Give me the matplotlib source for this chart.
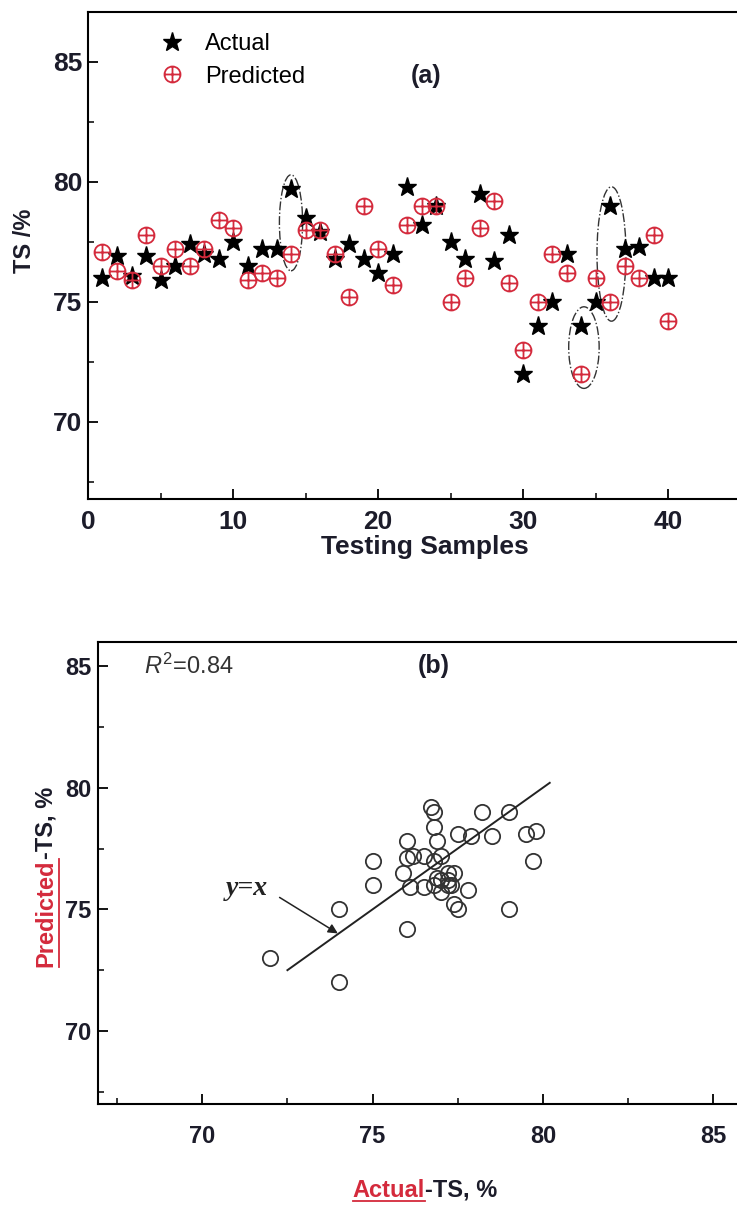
import numpy as np
import matplotlib
matplotlib.use('Agg')
import matplotlib.pyplot as plt
from matplotlib.path import Path
from matplotlib.patches import Ellipse
from matplotlib.lines import Line2D

# testing samples 1..40
samples = np.arange(1, 41)
actual = [76.0, 76.9, 76.1, 76.9, 75.9, 76.5, 77.4, 77.0, 76.8, 77.5,
          76.5, 77.2, 77.2, 79.7, 78.5, 77.9, 76.8, 77.4, 76.8, 76.2,
          77.0, 79.8, 78.2, 79.0, 77.5, 76.8, 79.5, 76.7, 77.8, 72.0,
          74.0, 75.0, 77.0, 74.0, 75.0, 79.0, 77.2, 77.3, 76.0, 76.0]
predicted = [77.1, 76.3, 75.9, 77.8, 76.5, 77.2, 76.5, 77.2, 78.4, 78.1,
             75.9, 76.2, 76.0, 77.0, 78.0, 78.0, 77.0, 75.2, 79.0, 77.2,
             75.7, 78.2, 79.0, 79.0, 75.0, 76.0, 78.1, 79.2, 75.8, 73.0,
             75.0, 77.0, 76.2, 72.0, 76.0, 75.0, 76.5, 76.0, 77.8, 74.2]
yticks_a = [70, 75, 80, 85]
xticks_a = [0, 10, 20, 30, 40]
ticks_b = [70, 75, 80, 85]
line_b = [72.5, 80.2]   # y = x segment
r2_label = '$R^2$=0.84'

RED = '#d42a3c'
TXT = '#1c1c2a'

plt.rcParams['font.family'] = ['Liberation Sans', 'DejaVu Sans']
plt.rcParams['mathtext.fontset'] = 'custom'
plt.rcParams['mathtext.rm'] = 'Liberation Sans'
plt.rcParams['mathtext.it'] = 'Liberation Sans:italic'

# circle with a plus inside
oplus = Path.make_compound_path(
    Path.unit_circle(),
    Path([(-1, 0), (1, 0), (0, -1), (0, 1)],
         [Path.MOVETO, Path.LINETO, Path.MOVETO, Path.LINETO]))


def style_axes(ax, size, xpad, ypad):
    for s in ['left', 'bottom', 'top', 'right']:
        ax.spines[s].set_linewidth(1.5)
    ax.tick_params(which='major', direction='in', length=7, width=1.3,
                   labelcolor=TXT)
    ax.tick_params(axis='x', pad=xpad)
    ax.tick_params(axis='y', pad=ypad)
    ax.tick_params(which='minor', direction='in', length=4, width=1.1)
    for lab in ax.get_xticklabels() + ax.get_yticklabels():
        lab.set_fontweight('bold')
        lab.set_fontsize(size)


fig = plt.figure(figsize=(7.37, 12.06), dpi=100)

# ---- panel (a)
ax1 = fig.add_axes([0.1194, 0.5864, 0.8854, 0.404])
ax1.plot(samples, actual, ls='none', marker='*', ms=14, color='black',
         label='Actual')
ax1.plot(samples, predicted, ls='none', marker=oplus, ms=11.5, mfc='none',
         mec=RED, mew=1.3, label='Predicted')
for cx, cy, w, h in [(14.0, 78.3, 1.6, 4.0), (34.2, 73.1, 2.1, 3.4),
                     (36.1, 77.0, 2.0, 5.6)]:
    ax1.add_patch(Ellipse((cx, cy), w, h, fill=False, ls='-.', lw=1,
                          ec='#333333'))
ax1.set_xlim(0, 45)
ax1.set_ylim(66.8, 87.1)
ax1.set_xticks(xticks_a)
ax1.set_xticks([5, 15, 25, 35], minor=True)
ax1.set_yticks(yticks_a)
ax1.set_yticks([67.5, 72.5, 77.5, 82.5], minor=True)
style_axes(ax1, 19, 8, 4)
ax1.set_xlabel('Testing Samples', fontsize=19, fontweight='bold', color=TXT)
ax1.xaxis.set_label_coords(0.516, -0.075)
ax1.set_ylabel('TS /%', fontsize=17, fontweight='bold', color=TXT)
ax1.yaxis.set_label_coords(-0.08, 0.53)
ax1.legend(loc='upper left', bbox_to_anchor=(0.085, 0.985), frameon=False,
           fontsize=17, handlelength=1.2, handletextpad=0.8,
           labelspacing=0.45, borderaxespad=0.2)
ax1.text(23.3, 84.4, '(a)', fontsize=18, fontweight='bold', color=TXT,
         ha='center', va='center')

# ---- panel (b)
ax2 = fig.add_axes([0.133, 0.0846, 0.881, 0.3833])
ax2.plot(actual, predicted, ls='none', marker='o', ms=11, mfc='none',
         mec='#333333', mew=1.3)
ax2.plot(line_b, line_b, color='#222222', lw=1.4)
ax2.annotate('', xy=(74.05, 73.95), xytext=(72.2, 75.55),
             arrowprops=dict(arrowstyle='-|>', color='#222222', lw=1.1,
                             mutation_scale=14))
ax2.text(71.3, 75.85, 'y=x', family=['Liberation Serif', 'DejaVu Serif'],
         style='italic', fontweight='bold', fontsize=20, ha='center',
         va='center', color='#222222')
ax2.text(68.3, 85.0, r2_label, fontsize=17, ha='left', va='center',
         color='#333333')
ax2.text(76.8, 85.0, '(b)', fontsize=18, fontweight='bold', color=TXT,
         ha='center', va='center')
ax2.set_xlim(66.94, 86)
ax2.set_ylim(67, 86)
ax2.set_xticks(ticks_b)
ax2.set_xticks([67.5, 72.5, 77.5, 82.5], minor=True)
ax2.set_yticks(ticks_b)
ax2.set_yticks([67.5, 72.5, 77.5, 82.5], minor=True)
style_axes(ax2, 17, 15, 5)

# two-colour axis labels with underlined red words
lab_kw = dict(fontsize=17, fontweight='bold')
xa = fig.text(0, 0.0075, 'Actual', color=RED, **lab_kw)
xb = fig.text(0, 0.0075, '-TS, %', color=TXT, **lab_kw)
ya = fig.text(0.047, 0, 'Predicted', color=RED, rotation=90, **lab_kw)
yb = fig.text(0.047, 0, '-TS, %', color=TXT, rotation=90, **lab_kw)
fig.canvas.draw()
r = fig.canvas.get_renderer()
W, H = fig.bbox.width, fig.bbox.height

wa = xa.get_window_extent(r).width
wb = xb.get_window_extent(r).width
x0 = 425 - (wa + wb) / 2
xa.set_x(x0 / W)
xb.set_x((x0 + wa) / W)
ha_ = ya.get_window_extent(r).height
hb_ = yb.get_window_extent(r).height
y0 = (1206 - 872) - (ha_ + hb_) / 2
ya.set_y(y0 / H)
yb.set_y((y0 + ha_) / H)
fig.canvas.draw()

bx = xa.get_window_extent(r)
fig.add_artist(Line2D([bx.x0 / W, bx.x1 / W], [(bx.y0 + 1) / H] * 2,
                      color=RED, lw=1.3, transform=fig.transFigure))
by = ya.get_window_extent(r)
fig.add_artist(Line2D([(by.x1 + 1) / W] * 2, [by.y0 / H, by.y1 / H],
                      color=RED, lw=1.3, transform=fig.transFigure))

fig.savefig('out.png', dpi=100)
